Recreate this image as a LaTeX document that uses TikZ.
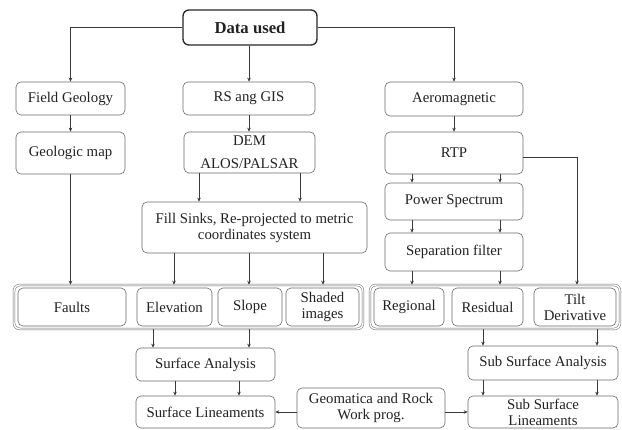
\documentclass[tikz,border=0pt]{standalone}
\usepackage{fontspec}
\setmainfont{Liberation Serif}[BoldFont={Liberation Serif Bold}]
\usetikzlibrary{arrows.meta}
\definecolor{lc}{HTML}{6A6A6A}
\definecolor{ac}{HTML}{3A3A3A}
\definecolor{tc}{HTML}{222222}
\newcommand\bx[7][]{%
  \pgfmathsetmacro\bxw{#5-#3}\pgfmathsetmacro\bxh{#6-#4}%
  \pgfmathsetmacro\bxcx{(#3+#5)/2}\pgfmathsetmacro\bxcy{(#4+#6)/2}%
  \node[box,minimum width=\bxw pt,minimum height=\bxh pt,#1] (#2) at (\bxcx,\bxcy) {#7};}
\begin{document}
\begin{tikzpicture}[x=1pt,y=-1pt,
  box/.style={draw=lc, line width=0.6pt, rounded corners=5pt, align=center, inner sep=0pt, text=tc, font=\rmfamily\fontsize{14.8}{16}\selectfont},
  grp/.style={draw=lc, double=white, double distance=1.4pt, line width=0.5pt, rounded corners=6pt},
  arr/.style={draw=ac, line width=0.6pt, -{Stealth[length=4pt,width=3.5pt]}}]
\fill[white] (0,0) rectangle (622,430);
\useasboundingbox (0,0) rectangle (622,430);
\foreach \x in {70,153,174,175,199,239,249,300,323,412,483,500,577,597}
  \coordinate (c\x) at (\x,0);
% boxes
\bx[font=\rmfamily\bfseries\fontsize{16.7}{18}\selectfont, line width=1.3pt, draw=black!85, rounded corners=6pt]{data}{183}{10}{317}{45}{Data used}
\bx{field}{16}{82}{125}{115}{Field Geology}
\bx{geomap}{16}{132}{125}{174}{Geologic map}
\bx{rs}{183}{82}{315}{115}{RS ang GIS}
\bx{dem}{184}{132}{315}{173}{DEM\\[7pt]ALOS/PALSAR}
\bx{fill}{142}{202}{367}{253}{Fill Sinks, Re-projected to metric\\coordinates system}
\bx{aero}{385}{82}{523}{116}{Aeromagnetic}
\bx{rtp}{385}{132}{523}{174}{RTP}
\bx{power}{385}{183}{523}{220}{Power Spectrum}
\bx{sep}{385}{233}{523}{271}{Separation filter}
\bx[grp]{lgrp}{14}{285}{363}{329}{}
\bx{faults}{18}{288}{126}{326}{Faults}
\bx{elev}{137}{288}{212}{326}{Elevation}
\bx{slope}{218}{288}{282}{326}{Slope}
\bx{shaded}{286}{288}{359}{326}{Shaded\\images}
\bx[grp]{rgrp}{370}{285}{620}{329}{}
\bx{regional}{374}{288}{444}{326}{Regional}
\bx{residual}{452}{288}{523}{326}{Residual}
\bx{tilt}{534}{288}{616}{326}{Tilt\\Derivative}
\bx{sa}{136}{348}{275}{381}{Surface Analysis}
\bx{sl}{136}{396}{275}{428}{Surface Lineaments}
\bx{geo}{297}{388}{445}{428}{Geomatica and Rock\\Work prog.}
\bx{ssa}{468}{346}{618}{380}{Sub Surface Analysis}
\bx{ssl}{468}{396}{618}{428}{Sub Surface\\Lineaments}
% connectors
\draw[arr] (data.west) -| (field.north);
\draw[arr] (data.east) -| (aero.north);
\draw[arr] (data.south -| c249) -- (rs.north -| c249);
\draw[arr] (field.south) -- (geomap.north);
\draw[arr] (geomap.south) -- (lgrp.north -| geomap.south);
\draw[arr] (rs.south -| c249) -- (dem.north -| c249);
\foreach \c in {c199,c300}
  \draw[arr] (dem.south -| \c) -- (fill.north -| \c);
\foreach \c in {c174,c249,c323}
  \draw[arr] (fill.south -| \c) -- (lgrp.north -| \c);
\draw[arr] (aero.south) -- (rtp.north);
\foreach \c in {c412,c500}{
  \draw[arr] (rtp.south -| \c) -- (power.north -| \c);
  \draw[arr] (power.south -| \c) -- (sep.north -| \c);
  \draw[arr] (sep.south -| \c) -- (rgrp.north -| \c);}
\draw[arr] ([yshift=-4pt]rtp.east) -| (rgrp.north -| c577);
\foreach \c in {c153,c249}
  \draw[arr] (lgrp.south -| \c) -- (sa.north -| \c);
\foreach \c in {c175,c239}
  \draw[arr] (sa.south -| \c) -- (sl.north -| \c);
\foreach \c in {c483,c597}{
  \draw[arr] (rgrp.south -| \c) -- (ssa.north -| \c);
  \draw[arr] (ssa.south -| \c) -- (ssl.north -| \c);}
\draw[arr] (geo.west |- sl.east) -- (sl.east);
\draw[arr] (geo.east |- ssl.west) -- (ssl.west);
\end{tikzpicture}
\end{document}
